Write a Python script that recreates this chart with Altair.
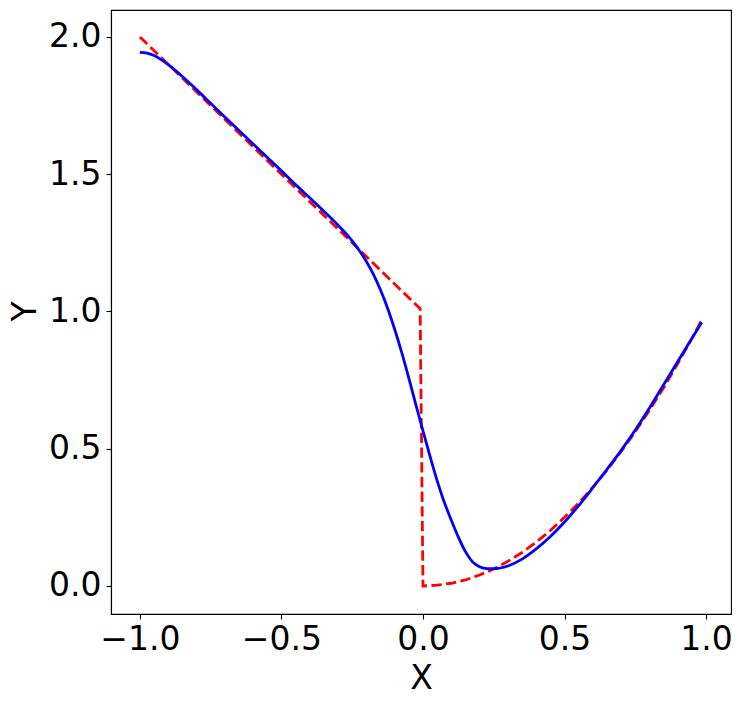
import altair as alt
import pandas as pd

# Red dashed reference curve
red_x = [-1.0, -0.5, -0.01, 0.0, 0.05, 0.1, 0.15, 0.2, 0.25, 0.3, 0.35, 0.4, 0.45, 0.5,
         0.55, 0.6, 0.65, 0.7, 0.75, 0.8, 0.85, 0.9, 0.95, 0.985]
red_y = [2.0, 1.5, 1.01, 0.0, 0.003, 0.01, 0.022, 0.04, 0.062, 0.09, 0.122, 0.16, 0.202, 0.25,
         0.302, 0.36, 0.422, 0.49, 0.562, 0.64, 0.722, 0.81, 0.902, 0.97]

# Blue smooth fitted curve
blue_x = [-1.0, -0.975, -0.95, -0.925, -0.9, -0.85, -0.8, -0.75, -0.7, -0.6, -0.5, -0.45,
          -0.4, -0.35, -0.3, -0.25, -0.225, -0.2, -0.175, -0.15, -0.125, -0.1, -0.075,
          -0.05, -0.025, 0.0, 0.025, 0.05, 0.075, 0.1, 0.125, 0.15, 0.175, 0.2, 0.225,
          0.25, 0.3, 0.35, 0.4, 0.45, 0.5, 0.55, 0.6, 0.65, 0.7, 0.75, 0.8, 0.85, 0.9,
          0.95, 0.985]
blue_y = [1.944, 1.941, 1.932, 1.917, 1.899, 1.856, 1.808, 1.758, 1.708, 1.610, 1.512, 1.462,
          1.414, 1.365, 1.314, 1.257, 1.222, 1.182, 1.135, 1.078, 1.012, 0.935, 0.850,
          0.757, 0.660, 0.565, 0.472, 0.384, 0.306, 0.240, 0.178, 0.125, 0.088, 0.070, 0.063,
          0.063, 0.073, 0.098, 0.135, 0.180, 0.233, 0.293, 0.358, 0.425, 0.494, 0.568, 0.648,
          0.733, 0.818, 0.902, 0.960]

x_ticks = [-1.0, -0.5, 0.0, 0.5, 1.0]
y_ticks = [0.0, 0.5, 1.0, 1.5, 2.0]

red_df = pd.DataFrame({"x": red_x, "y": red_y})
blue_df = pd.DataFrame({"x": blue_x, "y": blue_y})

FONT = "DejaVu Sans"
FS = 33

x_enc = alt.X(
    "x:Q",
    scale=alt.Scale(domain=[-1.102, 1.088], nice=False, zero=False),
    axis=alt.Axis(
        title="X", values=x_ticks, format=".1f", grid=False,
        domainColor="black", domainWidth=1.1, tickColor="black", tickWidth=1.1, tickSize=5,
        labelFont=FONT, labelFontSize=FS, labelColor="black", labelPadding=4,
        titleFont=FONT, titleFontSize=FS, titleFontWeight="normal", titleColor="black",
        titleBaseline="middle", titleY=64, labelFlush=False,
    ),
)
y_enc = alt.Y(
    "y:Q",
    scale=alt.Scale(domain=[-0.102, 2.098], nice=False, zero=False),
    axis=alt.Axis(
        title="Y", values=y_ticks, format=".1f", grid=False,
        domainColor="black", domainWidth=1.1, tickColor="black", tickWidth=1.1, tickSize=5,
        labelFont=FONT, labelFontSize=FS, labelColor="black", labelPadding=5,
        titleFont=FONT, titleFontSize=FS, titleFontWeight="normal", titleColor="black",
        titleAngle=-90, titleBaseline="middle", titleAlign="center", titleX=-86, titleY=301,
        labelFlush=False,
    ),
)

red = alt.Chart(red_df).mark_line(
    color="#ff0000", strokeWidth=2.8, strokeDash=[10.3, 4.4], strokeCap="butt"
).encode(x=x_enc, y=y_enc, order="x:Q")

blue = alt.Chart(blue_df).mark_line(
    color="#0000ff", strokeWidth=2.8, interpolate="monotone"
).encode(x=x_enc, y=y_enc, order="x:Q")

chart = alt.layer(red, blue).properties(
    width=620, height=604,
    autosize=alt.AutoSizeParams(type="none"),
    padding={"left": 103, "top": 2, "right": 3, "bottom": 83},
).configure_view(stroke="black", strokeWidth=1.1)

chart.save("out.html", embed_options={"renderer": "svg", "actions": False})
